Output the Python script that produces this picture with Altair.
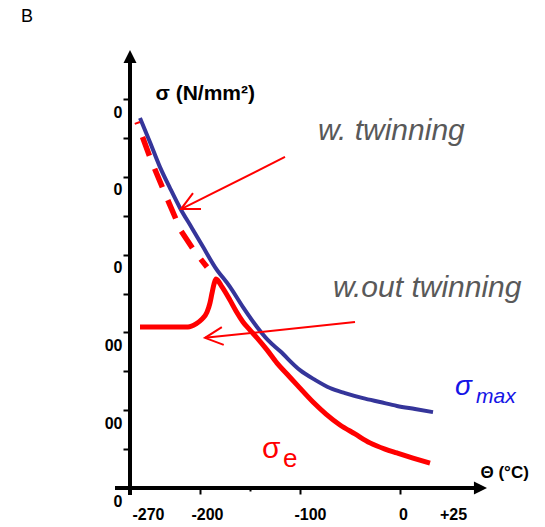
import altair as alt
import pandas as pd

# ---- data ----
blue_temp = [-260, -250, -240, -230, -220, -208, -197, -185, -170, -157, -143, -132,
             -120, -100, -85, -70, -55, -37, -20, -3, 15, 33]
blue_sigma = [951, 889, 825, 771, 720, 668, 620, 568, 517, 465, 414, 380,
              352, 303, 278, 257, 244, 231, 221, 211, 203, 195]

red_dash_temp = [-263, -249, -234, -219, -205, -193]
red_dash_sigma = [941, 843, 751, 661, 607, 568]

red_temp = [-260, -235, -212, -204, -198, -193, -190, -188, -186, -184, -178, -170,
            -164, -157, -150, -143, -133, -123, -113, -103, -87, -74, -60, -45,
            -30, -15, -3, 13, 30]
red_sigma = [414, 414, 414, 422, 434, 452, 476, 501, 524, 537, 517, 483,
             455, 427, 406, 386, 355, 321, 293, 265, 221, 190, 162, 139,
             116, 100, 90, 77, 64]

arrow1_temp = [-115, -219]
arrow1_sigma = [851, 717]
arrow2_temp = [-45, -195]
arrow2_sigma = [427, 386]

x_tick_values = [-270, -200, -150, -100, 0, 25]
y_tick_values = [0, 100, 200, 300, 400, 500, 600, 700, 800, 900, 1000]

X_DOMAIN = [-270, 87]
Y_DOMAIN = [0, 1126]

FONT = "Liberation Sans"

x_axis = alt.Axis(
    values=x_tick_values, domain=False, grid=False,
    title="Θ (°C)", titleX=350, titleY=-16, titleAlign="left", titleBaseline="middle",
    titleAngle=0, titleFont=FONT, titleFontSize=17, titleFontWeight="bold", titleColor="black",
    labelExpr="datum.value == 25 ? '+25' : datum.value == -150 ? '' : '' + datum.value",
    labelFont=FONT, labelFontSize=16, labelFontWeight="bold", labelColor="black",
    labelPadding=12, labelFlush=False, labelOverlap=False,
    labelOffset={"condition": [
        {"test": "datum.value == -270", "value": 18},
        {"test": "datum.value == 25", "value": 28},
        {"test": "datum.value == -100", "value": 10},
        {"test": "datum.value == 0", "value": 3}], "value": 7},
    tickSize={"condition": {"test": "datum.value == -150", "value": 3}, "value": 6},
    tickOpacity={"condition": {"test": "datum.value == 25", "value": 0}, "value": 1},
    tickWidth=2, tickColor="black",
)
y_axis = alt.Axis(
    values=y_tick_values, domain=False, grid=False,
    title="σ (N/mm²)", titleX=25, titleY=43, titleAlign="left", titleBaseline="middle",
    titleAngle=0, titleFont=FONT, titleFontSize=21, titleFontWeight="bold", titleColor="black",
    labelExpr="datum.value % 200 == 0 ? ((datum.value == 200 || datum.value == 400) ? '00' : '0') : ''",
    labelFont=FONT, labelFontSize=16, labelFontWeight="bold", labelColor="black",
    labelPadding=1, labelOffset=13, labelOverlap=False, labelFlush=False,
    tickSize=7, tickWidth=2, tickColor="black",
)

xs = alt.Scale(domain=X_DOMAIN, nice=False, zero=False)
ys = alt.Scale(domain=Y_DOMAIN, nice=False, zero=False)
X = alt.X("t:Q", scale=xs, axis=x_axis)
Y = alt.Y("s:Q", scale=ys, axis=y_axis)

blue_df = pd.DataFrame({"t": blue_temp, "s": blue_sigma})
red_dash_df = pd.DataFrame({"t": red_dash_temp, "s": red_dash_sigma})
red_df = pd.DataFrame({"t": red_temp, "s": red_sigma})
a1_df = pd.DataFrame({"t": arrow1_temp, "s": arrow1_sigma})
a2_df = pd.DataFrame({"t": arrow2_temp, "s": arrow2_sigma})

# axis lines (cross at the origin, slightly overshooting)
yline_df = pd.DataFrame({"t": [X_DOMAIN[0]], "s": [-18], "s2": [Y_DOMAIN[1] - 10]})
xline_df = pd.DataFrame({"t": [-285], "t2": [X_DOMAIN[1] - 8], "s": [0]})

yline = alt.Chart(yline_df).mark_rule(color="black", strokeWidth=4).encode(x=X, y=Y, y2="s2:Q")
xline = alt.Chart(xline_df).mark_rule(color="black", strokeWidth=4).encode(x=X, x2="t2:Q", y=Y)

yhead = alt.Chart(pd.DataFrame({"t": [X_DOMAIN[0]], "s": [Y_DOMAIN[1]]})).mark_point(
    shape="M0,0L1,2L-1,2Z", filled=True, size=170, color="black", opacity=1
).encode(x=X, y=Y)
xhead = alt.Chart(pd.DataFrame({"t": [X_DOMAIN[1]], "s": [0]})).mark_point(
    shape="M0,0L-2,-1L-2,1Z", filled=True, size=170, color="black", opacity=1
).encode(x=X, y=Y)

blue = alt.Chart(blue_df).mark_line(color="#35359a", strokeWidth=4, interpolate="monotone").encode(x=X, y=Y)
red_dash = alt.Chart(red_dash_df).mark_line(
    color="#ff0000", strokeWidth=5.5, strokeDash=[20, 14], strokeDashOffset=18, strokeCap="butt"
).encode(x=X, y=Y)
red = alt.Chart(red_df).mark_line(color="#ff0000", strokeWidth=5, interpolate="monotone").encode(x=X, y=Y)

arrow1 = alt.Chart(a1_df).mark_line(color="#ff0000", strokeWidth=2).encode(x=X, y=Y)
arrow2 = alt.Chart(a2_df).mark_line(color="#ff0000", strokeWidth=2).encode(x=X, y=Y)
head1 = alt.Chart(a1_df.tail(1)).mark_point(
    shape="M-1,-0.5L0,0L-1,0.5", filled=False, size=1280, strokeWidth=2,
    color="#ff0000", opacity=1, angle=153.4
).encode(x=X, y=Y)
head2 = alt.Chart(a2_df.tail(1)).mark_point(
    shape="M-1,-0.5L0,0L-1,0.5", filled=False, size=1280, strokeWidth=2,
    color="#ff0000", opacity=1, angle=173.9
).encode(x=X, y=Y)


def label(text, t, s, size, color, style="normal"):
    return alt.Chart().mark_text(
        text=text, font=FONT, fontSize=size, fontStyle=style, color=color,
        align="left", baseline="alphabetic"
    ).encode(x=alt.datum(t), y=alt.datum(s))


t1 = label("w. twinning", -82, 895, 30, "#595959", "italic")
t2 = label("w.out twinning", -67, 491, 30, "#595959", "italic")
smax1 = label("σ", 55, 239, 28, "#1414e6", "italic")
smax2 = label("max", 76, 218, 21, "#1414e6", "italic")
se1 = label("σ", -138, 77, 30, "#ff0000")
se2 = label("e", -117, 54, 26, "#ff0000")

chart = alt.layer(
    yline, xline, yhead, xhead, blue, red_dash, red, arrow1, arrow2, head1, head2,
    t1, t2, smax1, smax2, se1, se2
).properties(
    width=357, height=438,
    padding={"left": 130, "top": 50, "right": 58, "bottom": 39},
    autosize=alt.AutoSizeParams(type="none"),
    title=alt.TitleParams("B", anchor="start", frame="group", dx=-109, dy=-20, fontSize=18,
                          fontWeight="normal", font=FONT, color="black"),
).configure(background="white").configure_view(stroke=None)

chart.save("out.html", embed_options={"renderer": "svg", "actions": False})
